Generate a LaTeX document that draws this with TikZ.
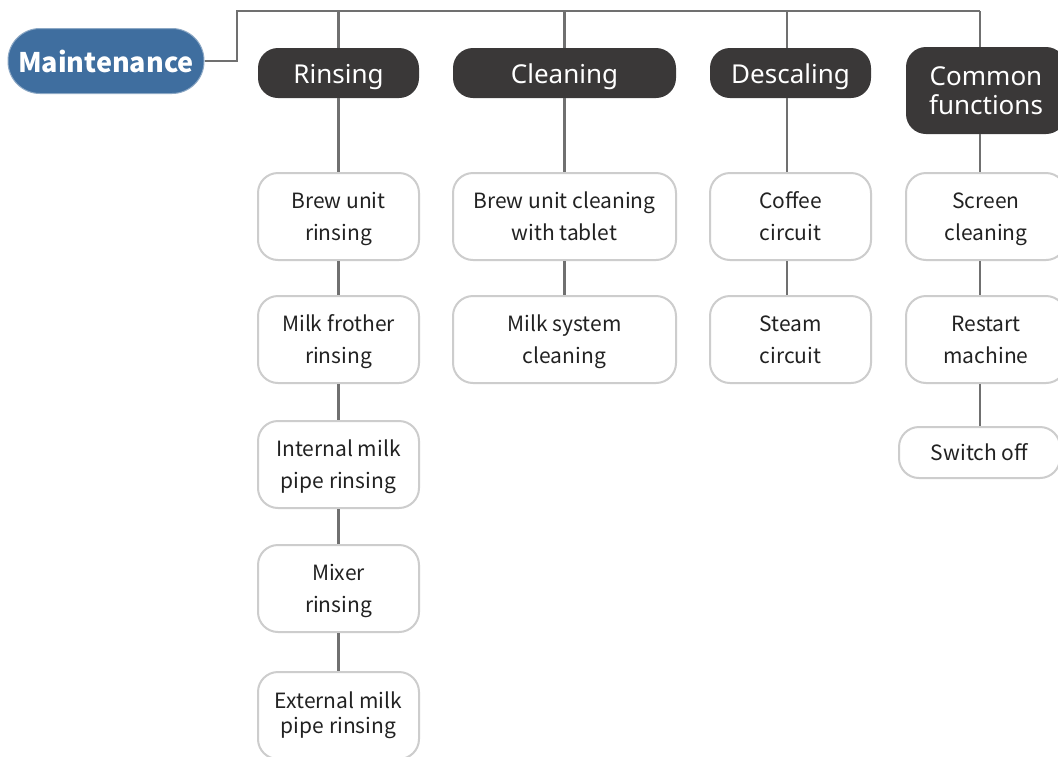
\documentclass[tikz,border=0pt]{standalone}
\usepackage{fontspec}
\newfontfamily\bodyfont{Noto Sans CJK SC}
\newfontfamily\headfont{Noto Sans}
\definecolor{mblue}{HTML}{3F6E9F}
\definecolor{hdark}{HTML}{3A3838}
\definecolor{lgray}{HTML}{707070}
\definecolor{bgray}{HTML}{CDCDCD}
\definecolor{txt}{HTML}{222222}
\newcommand\tline[1]{\rule[-7.6pt]{0pt}{32pt}#1}
\tikzset{
  root/.style={fill=mblue, draw=mblue!60!white, line width=1pt, rounded corners=32pt, minimum width=196pt, minimum height=65pt, inner sep=0pt, text=white, font=\bodyfont\bfseries\fontsize{27}{30}\selectfont},
  head/.style={fill=hdark, rounded corners=20pt, minimum height=50pt, inner sep=0pt, text=white, align=center, font=\headfont\fontsize{26}{31}\selectfont},
  headone/.style={head, text height=26pt, text depth=6pt},
  item/.style={fill=white, draw=bgray, line width=2pt, rounded corners=20pt, minimum height=87pt, inner sep=0pt, text=txt, align=center, font=\bodyfont\fontsize{21}{32}\selectfont},
  link/.style={draw=lgray, line width=2.5pt},
}
\begin{document}
\begin{tikzpicture}[x=1pt,y=-1pt]
\useasboundingbox (0,0) rectangle (1058,756);
\clip (0,0) rectangle (1058,756);
\fill[white] (0,0) rectangle (1058,756);
% root
\node[root] (m) at (106,61) {Maintenance};
% headers
\node[headone, minimum width=161pt] (h1) at (338.5,73) {Rinsing};
\node[headone, minimum width=223pt] (h2) at (564.5,73) {Cleaning};
\node[headone, minimum width=161pt] (h3) at (790.5,73) {Descaling};
\node[head, minimum width=160pt, minimum height=87pt] (h4) at (986,90.5) {Common\\[-2pt]functions};
% bus and column coordinates
\coordinate (bus) at (237,11);
\coordinate (busend) at (980,11);
\coordinate (dcol) at (787,11);
% rinsing
\node[item, minimum width=161pt] (r1) at (338.5,216.5) {\tline{Brew unit}\\\tline{rinsing}};
\node[item, minimum width=161pt] (r2) at (338.5,339.5) {\tline{Milk frother}\\\tline{rinsing}};
\node[item, minimum width=161pt] (r3) at (338.5,464.5) {\tline{Internal milk}\\\tline{pipe rinsing}};
\node[item, minimum width=161pt] (r4) at (338.5,588.5) {\tline{Mixer}\\\tline{rinsing}};
\node[item, minimum width=161pt, font=\bodyfont\fontsize{21}{25}\selectfont] (r5) at (338.5,715.5) {\strut External milk\\\strut pipe rinsing};
% cleaning
\node[item, minimum width=223pt] (c1) at (564.5,216.5) {\tline{Brew unit cleaning}\\\tline{with tablet}};
\node[item, minimum width=223pt] (c2) at (564.5,339.5) {\tline{Milk system}\\\tline{cleaning}};
% descaling
\node[item, minimum width=161pt] (d1) at (790.5,216.5) {\tline{Coffee}\\\tline{circuit}};
\node[item, minimum width=161pt] (d2) at (790.5,339.5) {\tline{Steam}\\\tline{circuit}};
% common
\node[item, minimum width=160pt] (f1) at (986,216.5) {\tline{Screen}\\\tline{cleaning}};
\node[item, minimum width=160pt] (f2) at (986,339.5) {\tline{Restart}\\\tline{machine}};
\node[item, minimum width=161pt, minimum height=51pt] (f3) at (979.5,452.5) {\tline{Switch off}};
% connectors
\draw[link] (m.east) -| (bus) -- (busend);
\draw[link] (h1.north |- bus) -- (h1.north);
\draw[link] (h2.north |- bus) -- (h2.north);
\draw[link] (dcol) -- (h3.north -| dcol);
\draw[link] (busend) -- (h4.north -| busend);
\draw[link] (h1.south) -- (r1.north);
\draw[link] (r1.south) -- (r2.north);
\draw[link] (r2.south) -- (r3.north);
\draw[link] (r3.south) -- (r4.north);
\draw[link] (r4.south) -- (r5.north);
\draw[link] (h2.south) -- (c1.north);
\draw[link] (c1.south) -- (c2.north);
\draw[link] (h3.south -| dcol) -- (d1.north -| dcol);
\draw[link] (d1.south -| dcol) -- (d2.north -| dcol);
\draw[link] (h4.south -| busend) -- (f1.north -| busend);
\draw[link] (f1.south -| busend) -- (f2.north -| busend);
\draw[link] (f2.south -| busend) -- (f3.north -| busend);
\end{tikzpicture}
\end{document}
